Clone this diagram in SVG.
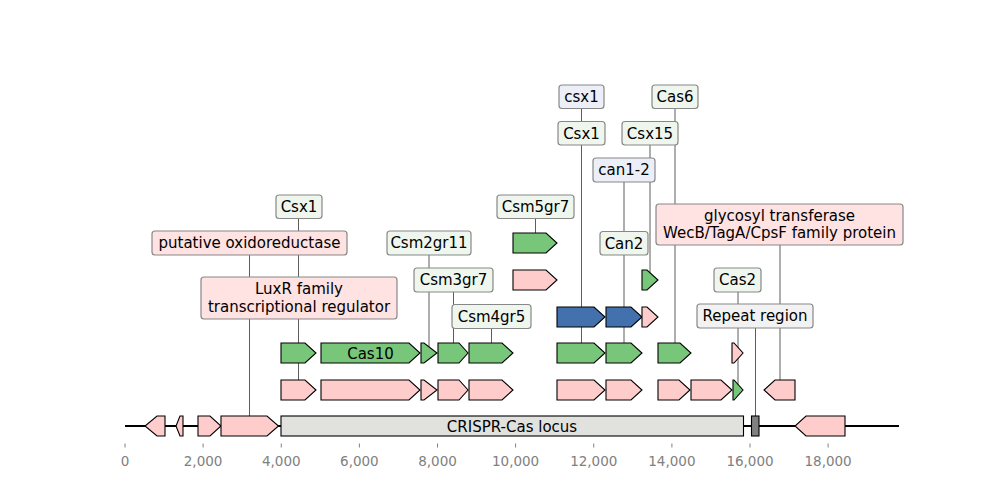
<svg xmlns="http://www.w3.org/2000/svg" width="1000" height="500" viewBox="0 0 1000 500">
<style>
text{font-family:"DejaVu Sans","Liberation Sans",sans-serif;font-size:15px;fill:#000}
.tick text,.tl{font-size:13.5px;fill:#808080;text-anchor:middle}
.tick line{stroke:#808080;stroke-width:1}
.ln{stroke:#333;stroke-width:0.8;fill:none}
.f{stroke:#000;stroke-width:1.1;stroke-linejoin:miter}
.pk{fill:#ffcccc}
.gr{fill:#78c679}
.bl{fill:#4271ae}
.lb rect{stroke:#888;stroke-width:1.2}
.lg{fill:#eef6ee}
.lp{fill:#ffe2e2}
.lbl{fill:#eceff8}
.lgy{fill:#f2f2f2}
.lb text{text-anchor:middle}
</style>
<rect width="1000" height="500" fill="#fff"/>
<g id="axis">
<line x1="125" y1="426" x2="899" y2="426" stroke="#000" stroke-width="2"/>
<g class="tick">
<line x1="125" y1="443.5" x2="125" y2="447.5"/><text x="125" y="466" class="tl">0</text>
<line x1="203.1" y1="443.5" x2="203.1" y2="447.5"/><text x="203.1" y="466" class="tl">2,000</text>
<line x1="281.25" y1="443.5" x2="281.25" y2="447.5"/><text x="281.25" y="466" class="tl">4,000</text>
<line x1="359.4" y1="443.5" x2="359.4" y2="447.5"/><text x="359.4" y="466" class="tl">6,000</text>
<line x1="437.5" y1="443.5" x2="437.5" y2="447.5"/><text x="437.5" y="466" class="tl">8,000</text>
<line x1="515.6" y1="443.5" x2="515.6" y2="447.5"/><text x="515.6" y="466" class="tl">10,000</text>
<line x1="593.75" y1="443.5" x2="593.75" y2="447.5"/><text x="593.75" y="466" class="tl">12,000</text>
<line x1="671.9" y1="443.5" x2="671.9" y2="447.5"/><text x="671.9" y="466" class="tl">14,000</text>
<line x1="750" y1="443.5" x2="750" y2="447.5"/><text x="750" y="466" class="tl">16,000</text>
<line x1="828.1" y1="443.5" x2="828.1" y2="447.5"/><text x="828.1" y="466" class="tl">18,000</text>
</g>
</g>
<g id="connectors">
<line class="ln" x1="298.5" y1="218" x2="298.5" y2="390"/>
<line class="ln" x1="249.5" y1="255" x2="249.5" y2="426"/>
<line class="ln" x1="429" y1="255" x2="429" y2="353"/>
<line class="ln" x1="453.5" y1="292" x2="453.5" y2="353"/>
<line class="ln" x1="491.5" y1="328" x2="491.5" y2="353"/>
<line class="ln" x1="535.5" y1="218" x2="535.5" y2="243"/>
<line class="ln" x1="581.5" y1="108" x2="581.5" y2="353"/>
<line class="ln" x1="675" y1="108" x2="675" y2="353"/>
<line class="ln" x1="650" y1="145" x2="650" y2="280"/>
<line class="ln" x1="624" y1="182" x2="624" y2="353"/>
<line class="ln" x1="780" y1="245" x2="780" y2="390"/>
<line class="ln" x1="738" y1="292" x2="738" y2="390"/>
<line class="ln" x1="755.5" y1="328" x2="755.5" y2="426"/>
</g>
<g id="main-row">
<path class="f pk" d="M165,416 H157 L145,426 L157,436 H165 Z"/>
<path class="f pk" d="M183,416 H180 L176,426 L180,436 H183 Z"/>
<path class="f pk" d="M198,416 H210 L221,426 L210,436 H198 Z"/>
<path class="f pk" d="M221,416 H267 L278.5,426 L267,436 H221 Z"/>
<g id="crispr-locus"><rect class="f" x="281" y="416" width="462.5" height="20" fill="#e1e1dd"/><text x="512" y="431.5" text-anchor="middle">CRISPR-Cas locus</text></g>
<rect class="f" x="751.5" y="416" width="7.5" height="20" fill="#808080"/>
<path class="f pk" d="M845,416 H806 L795,426 L806,436 H845 Z"/>
</g>
<g id="row1">
<path class="f pk" d="M281,380 H305 L316,390 L305,400 H281 Z"/>
<path class="f pk" d="M321,380 H409 L420,390 L409,400 H321 Z"/>
<path class="f pk" d="M421,380 H424 L437,390 L424,400 H421 Z"/>
<path class="f pk" d="M438,380 H459 L468,390 L459,400 H438 Z"/>
<path class="f pk" d="M469,380 H502 L513,390 L502,400 H469 Z"/>
<path class="f pk" d="M557,380 H594 L605,390 L594,400 H557 Z"/>
<path class="f pk" d="M606,380 H631 L642,390 L631,400 H606 Z"/>
<path class="f pk" d="M658,380 H679 L690,390 L679,400 H658 Z"/>
<path class="f pk" d="M691,380 H721 L732,390 L721,400 H691 Z"/>
<path class="f gr" d="M733,380 H734 L743,390 L734,400 H733 Z"/>
<path class="f pk" d="M795,380 H775 L764,390 L775,400 H795 Z"/>
</g>
<g id="row2">
<path class="f gr" d="M281,343 H305 L316,353 L305,363 H281 Z"/>
<g id="cas10"><path class="f gr" d="M321,343 H409 L420,353 L409,363 H321 Z"/><text x="370.5" y="358.5" text-anchor="middle">Cas10</text></g>
<path class="f gr" d="M421,343 H424 L437,353 L424,363 H421 Z"/>
<path class="f gr" d="M438,343 H459 L468,353 L459,363 H438 Z"/>
<path class="f gr" d="M469,343 H502 L513,353 L502,363 H469 Z"/>
<path class="f gr" d="M557,343 H594 L605,353 L594,363 H557 Z"/>
<path class="f gr" d="M606,343 H631 L642,353 L631,363 H606 Z"/>
<path class="f gr" d="M658,343 H680 L691,353 L680,363 H658 Z"/>
<path class="f pk" d="M732,343 H734 L743,353 L734,363 H732 Z"/>
</g>
<g id="row3">
<path class="f bl" d="M557,307 H594 L605,317 L594,327 H557 Z"/>
<path class="f bl" d="M606,307 H631 L642,317 L631,327 H606 Z"/>
<path class="f pk" d="M642,307 H647 L658,317 L647,327 H642 Z"/>
</g>
<g id="row4">
<path class="f pk" d="M513,270 H546 L557,280 L546,290 H513 Z"/>
<path class="f gr" d="M642,270 H647 L658,280 L647,290 H642 Z"/>
</g>
<g id="row5">
<path class="f gr" d="M513,233 H546 L557,243 L546,253 H513 Z"/>
</g>
<g id="labels">
<g class="lb" id="lab-csx1-a"><rect class="lg" x="276" y="195" width="46" height="23.5" rx="3"/><text x="299" y="212">Csx1</text></g>
<g class="lb" id="lab-oxido"><rect class="lp" x="152" y="231" width="195" height="24" rx="3"/><text x="249.5" y="248">putative oxidoreductase</text></g>
<g class="lb" id="lab-luxr"><rect class="lp" x="201" y="277" width="196" height="42" rx="3"/><text x="299" y="294">LuxR family</text><text x="299" y="311.5">transcriptional regulator</text></g>
<g class="lb" id="lab-csm2"><rect class="lg" x="387" y="231" width="84" height="24" rx="3"/><text x="429" y="248">Csm2gr11</text></g>
<g class="lb" id="lab-csm3"><rect class="lg" x="414" y="268" width="79" height="24" rx="3"/><text x="453.5" y="285">Csm3gr7</text></g>
<g class="lb" id="lab-csm4"><rect class="lg" x="452" y="304.5" width="79" height="24" rx="3"/><text x="491.5" y="321.5">Csm4gr5</text></g>
<g class="lb" id="lab-csm5"><rect class="lg" x="497" y="195" width="77" height="23.5" rx="3"/><text x="535.5" y="212">Csm5gr7</text></g>
<g class="lb" id="lab-csx1-b"><rect class="lbl" x="559" y="85" width="45" height="23.5" rx="3"/><text x="581.5" y="102">csx1</text></g>
<g class="lb" id="lab-csx1-c"><rect class="lg" x="558" y="121.5" width="47" height="23.5" rx="3"/><text x="581.5" y="138.5">Csx1</text></g>
<g class="lb" id="lab-cas6"><rect class="lg" x="652" y="85" width="46" height="23.5" rx="3"/><text x="675" y="102">Cas6</text></g>
<g class="lb" id="lab-csx15"><rect class="lg" x="622" y="121.5" width="56" height="23.5" rx="3"/><text x="650" y="138.5">Csx15</text></g>
<g class="lb" id="lab-can12"><rect class="lbl" x="593" y="158" width="62" height="24" rx="3"/><text x="624" y="175">can1-2</text></g>
<g class="lb" id="lab-can2"><rect class="lg" x="600" y="231.5" width="48" height="23.5" rx="3"/><text x="624" y="248.5">Can2</text></g>
<g class="lb" id="lab-glyco"><rect class="lp" x="656" y="204" width="247" height="41" rx="3"/><text x="779.5" y="221">glycosyl transferase</text><text x="779.5" y="238">WecB/TagA/CpsF family protein</text></g>
<g class="lb" id="lab-cas2"><rect class="lg" x="714" y="268" width="47" height="24" rx="3"/><text x="737.5" y="285">Cas2</text></g>
<g class="lb" id="lab-repeat"><rect class="lgy" x="697" y="304" width="116" height="24" rx="3"/><text x="755" y="321">Repeat region</text></g>
</g>
</svg>
